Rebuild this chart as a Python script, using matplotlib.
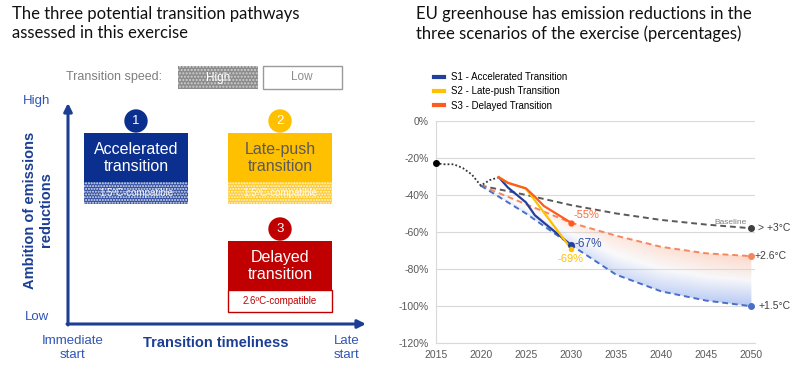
import numpy as np
import matplotlib.pyplot as plt
from matplotlib.patches import Rectangle, Circle, FancyArrowPatch
from matplotlib.lines import Line2D

plt.rcParams['font.family'] = ['Liberation Sans', 'DejaVu Sans']

# historical emissions (change vs 1990, %)
hist_years = [2015, 2016, 2017, 2018, 2019, 2020, 2021, 2022]
hist_vals = [-23, -23.5, -23.5, -25.5, -29, -35, -32, -30.5]

# scenario paths up to 2030
s1_years = [2022, 2023, 2024, 2025, 2026, 2027, 2028, 2029, 2030]
s1_vals = [-30.5, -36, -40, -44, -51, -55, -59, -63, -67]
s2_years = [2022, 2023, 2024, 2025, 2030]
s2_vals = [-30.5, -33.5, -35, -36.5, -69]
s3_years = [2022, 2023, 2024, 2025, 2026, 2027, 2028, 2029, 2030]
s3_vals = [-30.5, -33.5, -35, -36.5, -41, -46, -49, -52, -55]

# long-term reference paths
ref_years = [2020, 2025, 2030, 2035, 2040, 2045, 2050]
baseline_vals = [-35, -40, -45.5, -50, -53.5, -56, -58]
deg26_vals = [-35, -45, -55, -62, -68, -71.5, -73]
deg15_vals = [-35, -50, -67, -83, -92, -97, -100]

legend_labels = ['S1 - Accelerated Transition', 'S2 - Late-push Transition',
                 'S3 - Delayed Transition']
y_ticks = [0, -20, -40, -60, -80, -100, -120]
x_ticks = [2015, 2020, 2025, 2030, 2035, 2040, 2045, 2050]

BLUE = '#233f9c'
YELLOW = '#ffc000'
ORANGE = '#ff5a1f'
RED = '#c00000'
EUBLUE = '#0b2f8f'
TXTBLUE = '#1c3f94'
LBLUE = '#2f55b5'

fig = plt.figure(figsize=(8, 3.69), dpi=100)

# ---------- left panel: diagram in pixel coordinates ----------
ax0 = fig.add_axes([0, 0, 1, 1])
ax0.set_xlim(0, 800)
ax0.set_ylim(369, 0)
ax0.axis('off')

title_font = ['Lato', 'DejaVu Sans']
ax0.text(12, 6, 'The three potential transition pathways\nassessed in this exercise',
         fontsize=12, family=title_font, va='top', ha='left', linespacing=1.25, color='#111111')
ax0.text(416, 6, 'EU greenhouse has emission reductions in the\nthree scenarios of the exercise (percentages)',
         fontsize=12, family=title_font, va='top', ha='left', linespacing=1.25, color='#111111')

# transition speed key
ax0.text(162, 77, 'Transition speed:', fontsize=9, color='#7f7f7f', ha='right', va='center')
ax0.add_patch(Rectangle((178, 66), 80, 23, facecolor='#8c8c8c', edgecolor='#d0d0d0',
                        hatch='.....', lw=0))
ax0.text(218, 77.5, 'High', fontsize=8.5, color='white', ha='center', va='center')
ax0.add_patch(Rectangle((263, 66), 79, 23, facecolor='white', edgecolor='#9a9a9a', lw=1))
ax0.text(302, 77.5, 'Low', fontsize=8.5, color='#8c8c8c', ha='center', va='center')

# axes arrows
ax0.add_patch(FancyArrowPatch((68, 325), (68, 103), arrowstyle='-|>', mutation_scale=12,
                              color=TXTBLUE, lw=2.2, shrinkA=0, shrinkB=0))
ax0.add_patch(FancyArrowPatch((67, 324), (366, 324), arrowstyle='-|>', mutation_scale=12,
                              color=TXTBLUE, lw=2.2, shrinkA=0, shrinkB=0))
ax0.text(37, 101, 'High', fontsize=9.5, color=LBLUE, ha='center', va='center')
ax0.text(37, 317, 'Low', fontsize=9.5, color=LBLUE, ha='center', va='center')
ax0.text(38, 210, 'Ambition of emissions\nreductions', fontsize=10.5, fontweight='bold',
         color=TXTBLUE, rotation=90, ha='center', va='center', linespacing=1.15)
ax0.text(216, 343, 'Transition timeliness', fontsize=10.5, fontweight='bold',
         color=TXTBLUE, ha='center', va='center')
ax0.text(73, 348, 'Immediate\nstart', fontsize=9.5, color=LBLUE, ha='center', va='center',
         linespacing=1.15)
ax0.text(347, 348, 'Late\nstart', fontsize=9.5, color=LBLUE, ha='center', va='center',
         linespacing=1.15)


def scenario_box(x, y, num, title, color, txtcolor, sub, hatched):
    w, h_top, h_bot = 104, 49, 22
    ax0.add_patch(Circle((x + w / 2, y - 12), 11, color=color))
    ax0.text(x + w / 2, y - 11.5, num, color='white', fontsize=9.5, ha='center', va='center')
    ax0.add_patch(Rectangle((x, y), w, h_top, facecolor=color, edgecolor='none'))
    ax0.text(x + w / 2, y + 25, title, color=txtcolor, fontsize=11.5, ha='center',
             va='center', linespacing=1.2)
    if hatched:
        ax0.add_patch(Rectangle((x, y + h_top), w, h_bot, facecolor=color,
                                edgecolor='#ffffff', hatch='......', lw=0, alpha=0.85))
        ax0.text(x + w / 2, y + h_top + 11, sub, color='white', fontsize=7, ha='center',
                 va='center', alpha=0.9)
    else:
        ax0.add_patch(Rectangle((x, y + h_top), w, h_bot, facecolor='white',
                                edgecolor=color, lw=1))
        ax0.text(x + w / 2, y + h_top + 11, sub, color=color, fontsize=7, ha='center',
                 va='center')


scenario_box(84, 133, '1', 'Accelerated\ntransition', EUBLUE, 'white', '1.5ºC-compatible', True)
scenario_box(228, 133, '2', 'Late-push\ntransition', YELLOW, '#5a5a5a', '1.5ºC-compatible', True)
scenario_box(228, 241, '3', 'Delayed\ntransition', RED, 'white', '2.6ºC-compatible', False)

# ---------- right panel: emissions chart ----------
ax = fig.add_axes([435.7 / 800, 1 - 343.3 / 369, (755 - 435.7) / 800, (343.3 - 120.7) / 369])

# gradient band between 2.6C and 1.5C paths
xs = np.linspace(2020, 2050, 400)
upper = np.interp(xs, ref_years, deg26_vals)
lower = np.interp(xs, ref_years, deg15_vals)
ys = np.linspace(-101, -34, 300)
X, Y = np.meshgrid(xs, ys)
U = np.interp(X, ref_years, deg26_vals)
L = np.interp(X, ref_years, deg15_vals)
t = np.clip((Y - L) / np.maximum(U - L, 1e-6), 0, 1)
blue_c = np.array([0.36, 0.52, 0.90])
org_c = np.array([0.98, 0.66, 0.52])
white_c = np.array([0.93, 0.93, 0.95])
tt = t[..., None]
rgb = np.where(tt < 0.5, blue_c + (white_c - blue_c) * (tt / 0.5),
               white_c + (org_c - white_c) * ((tt - 0.5) / 0.5))
alpha = 0.12 + 0.33 * (X - 2020) / 30
rgba = np.dstack([rgb, alpha])
im = ax.imshow(rgba, extent=[2020, 2050, -101, -34], origin='lower', aspect='auto',
               zorder=1, interpolation='bilinear')
band = ax.fill_between(xs, lower, upper, color='none', lw=0)
im.set_clip_path(band.get_paths()[0], transform=ax.transData)

ax.plot(hist_years, hist_vals, ls=(0, (1, 1.2)), color='#333333', lw=1.3, zorder=3)
ax.plot(hist_years[0], hist_vals[0], 'o', color='black', ms=4, zorder=4, clip_on=False)

ax.plot(ref_years, baseline_vals, ls=(0, (3, 2)), color='#595959', lw=1.4, zorder=2)
ax.plot(ref_years, deg26_vals, ls=(0, (3, 2)), color='#f5875f', lw=1.4, zorder=2)
ax.plot(ref_years, deg15_vals, ls=(0, (3, 2)), color='#4a6fc9', lw=1.4, zorder=2)
ax.plot(ref_years[-1], baseline_vals[-1], 'o', color='#404040', ms=4, zorder=4, clip_on=False)
ax.plot(ref_years[-1], deg26_vals[-1], 'o', color='#f5875f', ms=4, zorder=4, clip_on=False)
ax.plot(ref_years[-1], deg15_vals[-1], 'o', color='#4a6fc9', ms=4, zorder=4, clip_on=False)

l1, = ax.plot(s1_years, s1_vals, color=BLUE, lw=1.6, zorder=5)
l2, = ax.plot(s2_years, s2_vals, color=YELLOW, lw=1.6, zorder=5)
l3, = ax.plot(s3_years, s3_vals, color=ORANGE, lw=1.6, zorder=6)
ax.plot(s1_years[-1], s1_vals[-1], 'o', color=BLUE, ms=4, zorder=7)
ax.plot(s2_years[-1], s2_vals[-1], 'o', color=YELLOW, ms=3, zorder=7)
ax.plot(s3_years[-1], s3_vals[-1], 'o', color=ORANGE, ms=3.5, zorder=7)

ax.text(s3_years[-1] + 0.3, s3_vals[-1] + 1.5, '%d%%' % s3_vals[-1], color='#ff6a33',
        fontsize=8, va='bottom', ha='left')
ax.text(s1_years[-1] + 0.4, s1_vals[-1] + 0.5, '%d%%' % s1_vals[-1], color='#2f4fa8',
        fontsize=8.5, va='center', ha='left')
ax.text(s2_years[-1], s2_vals[-1] - 3, '%d%%' % s2_vals[-1], color=YELLOW,
        fontsize=8, va='top', ha='center')
ax.text(2049.5, baseline_vals[-1] + 1.5, 'Baseline', color='#7f7f7f', fontsize=6,
        ha='right', va='bottom')
ax.text(2050.7, baseline_vals[-1], '> +3°C', color='#404040', fontsize=7.5, va='center',
        ha='left', clip_on=False)
ax.text(2050.4, deg26_vals[-1], '+2.6°C', color='#404040', fontsize=7.5, va='center',
        ha='left', clip_on=False)
ax.text(2050.8, deg15_vals[-1], '+1.5°C', color='#404040', fontsize=7.5, va='center',
        ha='left', clip_on=False)

ax.set_xlim(2015, 2050.4)
ax.set_ylim(-120, 0)
ax.set_yticks(y_ticks)
ax.set_yticklabels(['%d%%' % v for v in y_ticks])
ax.set_xticks(x_ticks)
ax.tick_params(length=0, labelsize=7.5, colors='#595959', pad=5)
ax.grid(axis='y', color='#d9d9d9', lw=0.8)
ax.set_axisbelow(True)
for s in ['top', 'right']:
    ax.spines[s].set_visible(False)
ax.spines['left'].set_color('#d9d9d9')
ax.spines['bottom'].set_color('#d9d9d9')

handles = [Line2D([], [], color=c, lw=3) for c in [BLUE, YELLOW, ORANGE]]
fig.legend(handles, legend_labels, loc='upper left', bbox_to_anchor=(434 / 800, 1 - 72 / 369),
           frameon=False, fontsize=7, handlelength=1.0, handletextpad=0.7,
           labelspacing=0.45, borderpad=0, borderaxespad=0)

fig.savefig('out.png', dpi=100, facecolor='white')
